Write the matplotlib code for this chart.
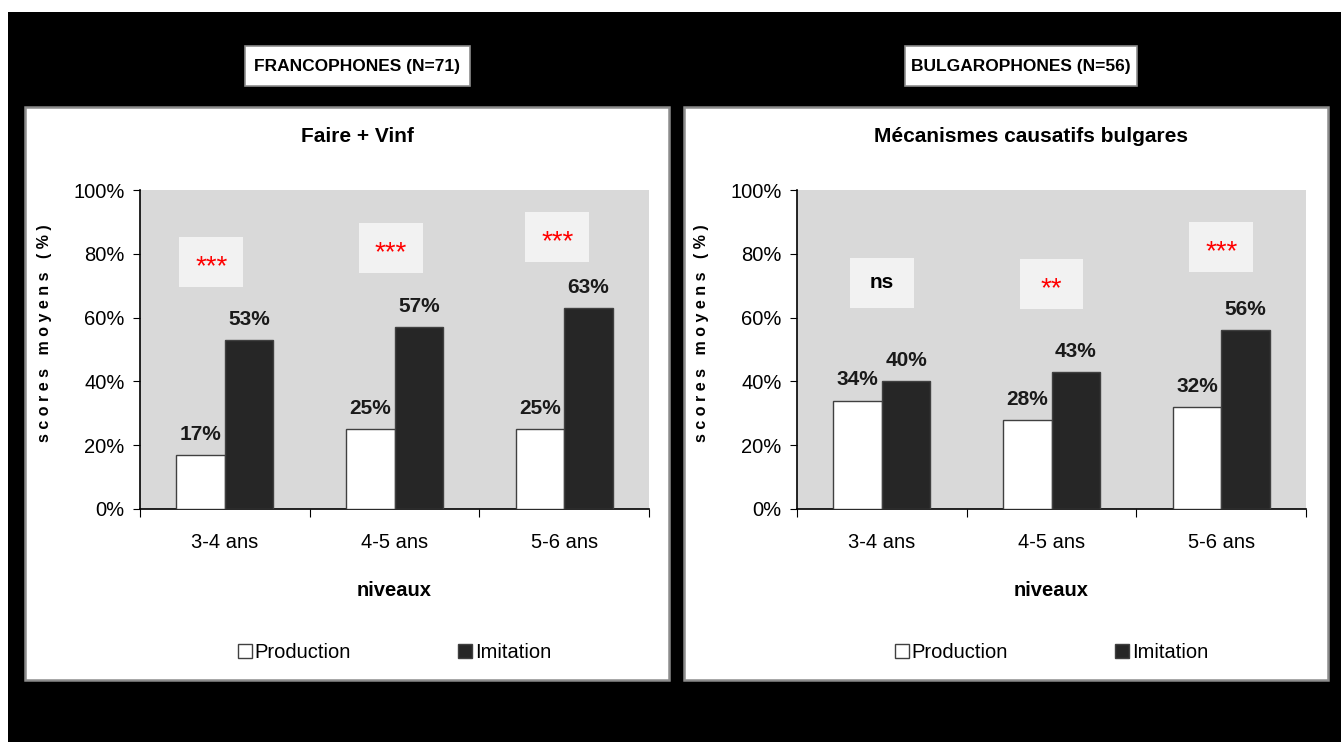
import numpy as np
import matplotlib
matplotlib.use('Agg')
import matplotlib.pyplot as plt
from matplotlib.patches import Rectangle
from matplotlib.ticker import PercentFormatter

plt.rcParams['font.family'] = ['Liberation Sans', 'DejaVu Sans']

# data
niveaux = ['3-4 ans', '4-5 ans', '5-6 ans']
fr_production = [17, 25, 25]
fr_imitation = [53, 57, 63]
bg_production = [34, 28, 32]
bg_imitation = [40, 43, 56]
fr_signif = ['***', '***', '***']
bg_signif = ['ns', '**', '***']
fr_signif_pos = [(-0.08, 77.4), (-0.02, 81.7), (-0.04, 85.3)]
bg_signif_pos = [(0.0, 71.0), (0.0, 70.4), (0.0, 82.0)]

W, H = 1341, 742
fig = plt.figure(figsize=(W / 100, H / 100), dpi=100)
fig.patch.set_facecolor('white')


def fx(px):
    return px / W


def fy(py):
    return 1 - py / H


# black background
fig.patches.append(Rectangle((fx(8), 0), 1 - fx(8), fy(12), transform=fig.transFigure,
                             facecolor='black', edgecolor='none', zorder=0))
# white panels
for x0 in [25, 684]:
    fig.patches.append(Rectangle((fx(x0), fy(680)), fx(644), (680 - 107) / H,
                                 transform=fig.transFigure, facecolor='white',
                                 edgecolor='#8c8c8c', linewidth=1.8, zorder=1))

# header boxes
for txt, x0, x1 in [('FRANCOPHONES (N=71)', 245, 470), ('BULGAROPHONES (N=56)', 905, 1137)]:
    fig.patches.append(Rectangle((fx(x0), fy(86)), fx(x1 - x0), 40 / H,
                                 transform=fig.transFigure, facecolor='white',
                                 edgecolor='#8c8c8c', linewidth=1.2, zorder=1))
    fig.text(fx((x0 + x1) / 2), fy(67), txt, ha='center', va='center', fontsize=12.5,
             fontweight='bold', zorder=2)

bw = 1 / 3.5
x = np.arange(3)


def draw_panel(left_px, title, title_cx, prod, imit, signif, signif_pos):
    ax = fig.add_axes([fx(left_px), fy(509), fx(509), 319 / H])
    ax.set_zorder(5)
    ax.set_facecolor('#d9d9d9')
    b1 = ax.bar(x - bw / 2, prod, bw, color='white', edgecolor='#404040', linewidth=1.0,
                label='Production', zorder=3)
    b2 = ax.bar(x + bw / 2, imit, bw, color='#262626', edgecolor='#404040', linewidth=1.0,
                label='Imitation', zorder=3)
    for bars, vals in [(b1, prod), (b2, imit)]:
        for r, v in zip(bars, vals):
            ax.annotate(f'{v}%', (r.get_x() + r.get_width() / 2, v), xytext=(0, 8),
                        textcoords='offset points', ha='center', va='bottom',
                        fontsize=15, fontweight='bold', color='#1a1a1a')
    for s, (dx, yv), xi in zip(signif, signif_pos, x):
        ax.add_patch(Rectangle((xi + dx - 0.1886, yv - 7.84), 0.3772, 15.68,
                               facecolor='#f2f2f2', edgecolor='none', zorder=2))
        if s == 'ns':
            ax.text(xi + dx, yv, s, ha='center', va='center', fontsize=15,
                    fontweight='bold', color='black', zorder=4)
        else:
            ax.annotate(s, (xi + dx, yv), xytext=(0, -3.5), textcoords='offset points',
                        ha='center', va='center', fontsize=20, color='red', zorder=4)
    ax.set_xlim(-0.5, 2.5)
    ax.set_ylim(0, 100)
    ax.set_yticks(np.arange(0, 101, 20))
    ax.yaxis.set_major_formatter(PercentFormatter(decimals=0))
    ax.tick_params(axis='y', direction='out', length=5, labelsize=14.5, pad=6)
    ax.set_xticks([-0.5, 0.5, 1.5, 2.5])
    ax.set_xticklabels([])
    ax.set_xticks(x, minor=True)
    ax.set_xticklabels(niveaux, minor=True)
    ax.tick_params(axis='x', which='major', direction='out', length=6)
    ax.tick_params(axis='x', which='minor', length=0, labelsize=14.5, pad=17)
    for sp in ['top', 'right']:
        ax.spines[sp].set_visible(False)
    ax.spines['left'].set_linewidth(1.2)
    ax.spines['bottom'].set_linewidth(1.2)
    ax.text(0.5, -0.255, 'niveaux', transform=ax.transAxes, ha='center', va='center',
            fontsize=14.5, fontweight='bold')
    ax.text(-0.187, 0.55, 's c o r e s   m o y e n s   ( % )', transform=ax.transAxes,
            rotation=90, ha='center', va='center', fontsize=11.5, fontweight='bold')
    fig.text(fx(title_cx), fy(136), title, ha='center', va='center', fontsize=15,
             fontweight='bold')
    ax.legend(loc='center', bbox_to_anchor=(0.5, -0.45), ncol=2, frameon=False,
              fontsize=14.5, handlelength=0.7, handleheight=0.7, handletextpad=0.15,
              columnspacing=5.3)
    return ax


draw_panel(140, 'Faire + Vinf', 357, fr_production, fr_imitation, fr_signif, fr_signif_pos)
draw_panel(797, 'Mécanismes causatifs bulgares', 1031, bg_production, bg_imitation, bg_signif, bg_signif_pos)

fig.savefig('out.png', dpi=100)
